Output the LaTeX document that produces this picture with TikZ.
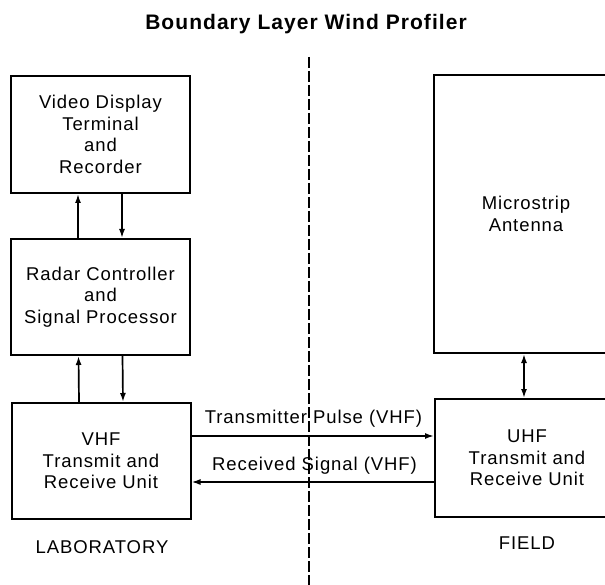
\documentclass[tikz,border=0pt]{standalone}
\usepackage{fontspec}
\setmainfont{Liberation Sans}[LetterSpace=5]
\usetikzlibrary{arrows.meta}
\begin{document}
\begin{tikzpicture}[x=1pt,y=-1pt,
  blk/.style={draw, line width=2pt, inner sep=0pt, align=center,
    font=\fontsize{18.5}{21.7}\selectfont},
  lbl/.style={inner sep=0pt, font=\fontsize{18.5}{21.7}\selectfont},
  arr/.style={line width=1.7pt, -{Latex[length=9pt,width=6pt]}},
  darr/.style={line width=1.7pt, {Latex[length=9pt,width=6pt]}-{Latex[length=9pt,width=6pt]}},
  divider/.style={line width=1.2pt, dash pattern=on 11pt off 3pt}]
\clip (0,0) rectangle (605,585);
\fill[white] (0,0) rectangle (605,585);
\node[inner sep=0pt, anchor=base, font=\fontsize{21}{25}\bfseries\selectfont] (title) at (306,30) {Boundary Layer Wind Profiler};
\coordinate (dtop) at (309,57);
\coordinate (dbot) at (309,590);
\draw[divider] (dtop) -- (dbot);
\node[blk, minimum width=179pt, minimum height=117pt] (video) at (100.5,134.5) {Video Display\\Terminal\\and\\Recorder};
\node[blk, minimum width=179pt, minimum height=116pt] (radar) at (100.5,297) {Radar Controller\\and\\Signal Processor};
\node[blk, minimum width=179pt, minimum height=116pt] (vhf) at (101,461) {VHF\\Transmit and\\Receive Unit};
\node[blk, minimum width=184pt, minimum height=278pt] (ant) at (526,214) {Microstrip\\Antenna};
\node[blk, minimum width=184pt, minimum height=118pt] (uhf) at (527,458) {UHF\\Transmit and\\Receive Unit};
\draw[arr] ([xshift=-22.5pt]radar.north) -- ([xshift=-22.5pt]video.south);
\draw[arr] ([xshift=21.5pt]video.south) -- ([xshift=21.5pt]radar.north);
\draw[arr] ([xshift=-22pt]vhf.north) -- ([xshift=-22pt]radar.south);
\draw[arr] ([xshift=22pt]radar.south) -- ([xshift=22pt]vhf.north);
\draw[darr] ([xshift=-2pt]ant.south) -- ([xshift=-3pt]uhf.north);
\draw[arr] ([yshift=25pt]vhf.east) -- ([yshift=25pt]vhf.east -| uhf.west);
\draw[arr] ([yshift=-24pt]uhf.west) -- ([yshift=-24pt]uhf.west -| vhf.east);
\node[lbl] (tx) at (313.5,419) {Transmitter Pulse (VHF)};
\node[lbl] (rx) at (314.5,466) {Received Signal (VHF)};
\node[lbl] (lab) at (102,547) {LABORATORY};
\node[lbl] (field) at (527,543) {FIELD};
\end{tikzpicture}
\end{document}
